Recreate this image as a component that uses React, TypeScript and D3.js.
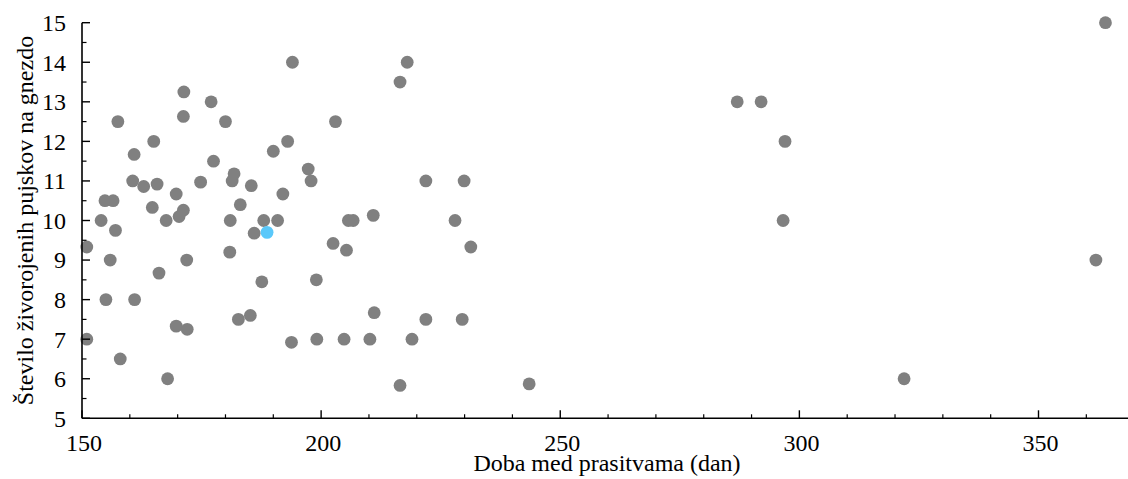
import React from "react";
import * as d3 from "d3";

const xValues: number[] = [
  194, 171.3, 177, 157.5, 171.2, 180, 203, 165, 193, 160.9,
  190, 177.5, 197.3, 197.9, 160.6, 162.9, 165.7, 174.8, 181.4, 181.8,
  185.4, 169.7, 192, 154.8, 156.5, 164.7, 183.1, 171.2, 170.3, 154,
  167.6, 181, 188, 190.9, 205.7, 206.7, 210.9, 157, 186, 151,
  155.9, 171.9, 180.9, 166.1, 187.6, 199, 155, 161, 169.7, 172,
  182.7, 185.2, 151, 193.8, 199.1, 204.8, 158, 167.9, 218, 216.5,
  221.9, 229.9, 228, 202.5, 205.3, 231.3, 211.1, 221.9, 229.5, 210.2,
  219, 216.5, 243.5, 364, 287, 292, 297, 296.6, 362, 321.9,
];
const yValues: number[] = [
  14, 13.25, 13, 12.5, 12.63, 12.5, 12.5, 12, 12, 11.67,
  11.75, 11.5, 11.3, 11, 11, 10.86, 10.92, 10.97, 11, 11.18,
  10.88, 10.67, 10.67, 10.5, 10.5, 10.33, 10.4, 10.26, 10.1, 10,
  10, 10, 10, 10, 10, 10, 10.13, 9.75, 9.68, 9.33,
  9, 9, 9.2, 8.67, 8.45, 8.5, 8, 8, 7.33, 7.25,
  7.5, 7.6, 7, 6.92, 7, 7, 6.5, 6, 14, 13.5,
  11, 11, 10, 9.42, 9.25, 9.33, 7.67, 7.5, 7.5, 7,
  7, 5.83, 5.87, 15, 13, 13, 12, 10, 9, 6,
];
const highlightX: number[] = [188.7];
const highlightY: number[] = [9.7];

const xMajorTicks: number[] = [150, 200, 250, 300, 350];
const yMajorTicks: number[] = [5, 6, 7, 8, 9, 10, 11, 12, 13, 14, 15];

const xTitle = "Doba med prasitvama (dan)";
const yTitle = "Število živorojenih pujskov na gnezdo";

const W = 1128;
const H = 479;
const left = 82;
const right = 1128;
const top = 22.7;
const bottom = 418.3;
const pxPerUnit = (1038.5 - 82) / 200;

const x = d3.scaleLinear().domain([150, 150 + (right - left) / pxPerUnit]).range([left, right]);
const y = d3.scaleLinear().domain([5, 15]).range([bottom, top]);

const font = '"Liberation Serif", "Times New Roman", Tinos, "DejaVu Serif", serif';
const textStyle: React.CSSProperties = { fontFamily: font, fontSize: "24px" };

export default function App() {
  const xMinor = d3.range(150, x.domain()[1], 10).filter((v) => v % 50 !== 0);
  const yMinor = d3.range(5.5, 15, 1);
  return (
    <svg
      width={W}
      height={H}
      style={{ position: "absolute", left: 0, top: 0, background: "#fff", fontFamily: font }}
    >
      {xValues.map((v, i) => (
        <circle key={i} cx={x(v)} cy={y(yValues[i])} r={6.4} fill="#808080" />
      ))}
      {highlightX.map((v, i) => (
        <circle key={"h" + i} cx={x(v)} cy={y(highlightY[i])} r={6.4} fill="#5ac8fa" />
      ))}
      <line x1={left} x2={right} y1={bottom} y2={bottom} stroke="#000" strokeWidth={1.6} />
      <line x1={left} x2={left} y1={top} y2={bottom} stroke="#000" strokeWidth={1.6} />
      {xMajorTicks.map((t) => (
        <g key={"xt" + t}>
          <line x1={x(t)} x2={x(t)} y1={bottom} y2={bottom - 8} stroke="#000" strokeWidth={1.4} />
          <text x={x(t) + 2} y={451} textAnchor="middle" style={textStyle} fill="#000">
            {t}
          </text>
        </g>
      ))}
      {xMinor.map((t) => (
        <line key={"xm" + t} x1={x(t)} x2={x(t)} y1={bottom} y2={bottom - 4} stroke="#000" strokeWidth={1.2} />
      ))}
      {yMajorTicks.map((t) => (
        <g key={"yt" + t}>
          <line x1={left} x2={left + 8} y1={y(t)} y2={y(t)} stroke="#000" strokeWidth={1.4} />
          <text x={66} y={y(t)} dy="0.35em" textAnchor="end" style={textStyle} fill="#000">
            {t}
          </text>
        </g>
      ))}
      {yMinor.map((t) => (
        <line key={"ym" + t} x1={left} x2={left + 4.5} y1={y(t)} y2={y(t)} stroke="#000" strokeWidth={1.2} />
      ))}
      <text x={(left + right) / 2 + 2} y={470.5} textAnchor="middle" style={textStyle} fill="#000">
        {xTitle}
      </text>
      <text
        transform={`translate(33, ${(top + bottom) / 2}) rotate(-90)`}
        textAnchor="middle"
        style={textStyle}
        fill="#000"
      >
        {yTitle}
      </text>
    </svg>
  );
}
